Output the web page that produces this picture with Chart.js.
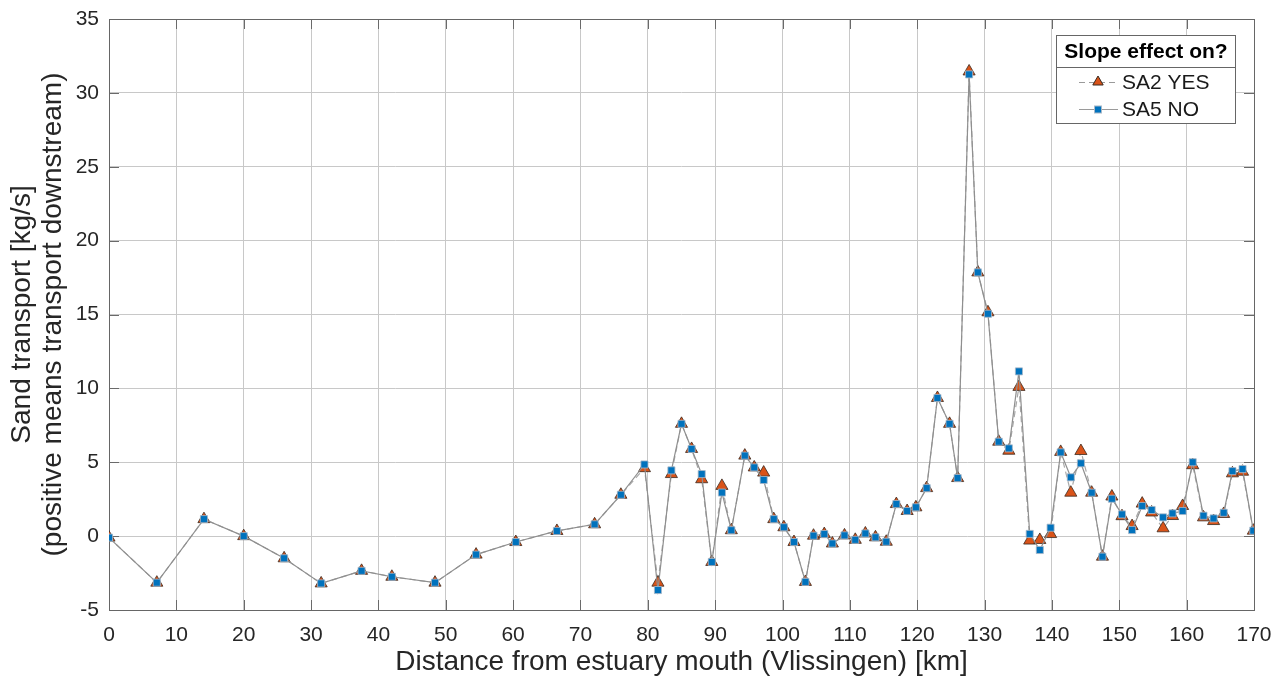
<!DOCTYPE html>
<html>
<head>
<meta charset="utf-8">
<script src="https://cdn.jsdelivr.net/npm/chart.js@4.4.1/dist/chart.umd.min.js"></script>
<style>
  html, body { margin: 0; padding: 0; background: #ffffff; }
  #wrap { width: 1283px; height: 682px; position: relative; }
</style>
</head>
<body>
<div id="wrap"><canvas id="c" width="1283" height="682"></canvas></div>
<script>
// Distance from estuary mouth [km]
const distanceKm = [0.0, 7.1, 14.1, 20.0, 26.0, 31.5, 37.5, 42.0, 48.4, 54.5, 60.4, 66.5, 72.1, 76.0, 79.5, 81.5, 83.5, 85.0, 86.5, 88.0, 89.5, 91.0, 92.4, 94.4, 95.8, 97.2, 98.7, 100.2, 101.7, 103.4, 104.6, 106.2, 107.4, 109.2, 110.8, 112.3, 113.8, 115.4, 116.9, 118.5, 119.8, 121.4, 123.0, 124.8, 126.0, 127.7, 129.0, 130.5, 132.1, 133.6, 135.1, 136.7, 138.2, 139.8, 141.3, 142.8, 144.3, 145.9, 147.5, 148.9, 150.4, 151.9, 153.4, 154.8, 156.5, 157.9, 159.4, 160.9, 162.5, 164.0, 165.5, 166.8, 168.3, 169.9];
// Sand transport [kg/s], slope effect on
const sa2Yes = [-0.1, -3.15, 1.15, 0.0, -1.5, -3.2, -2.35, -2.75, -3.15, -1.25, -0.4, 0.35, 0.8, 2.8, 4.6, -3.15, 4.2, 7.6, 5.9, 3.85, -1.75, 3.4, 0.4, 5.45, 4.65, 4.3, 1.15, 0.6, -0.4, -3.1, 0.03, 0.14, -0.5, 0.05, -0.25, 0.18, -0.08, -0.38, 2.17, 1.7, 1.95, 3.25, 9.35, 7.6, 3.93, 31.45, 17.85, 15.15, 6.39, 5.78, 10.1, -0.3, -0.26, 0.14, 5.7, 2.94, 5.76, 2.94, -1.39, 2.68, 1.35, 0.68, 2.2, 1.6, 0.53, 1.36, 2.04, 4.8, 1.27, 1.02, 1.5, 4.25, 4.36, 0.37];
// Sand transport [kg/s], slope effect off
const sa5No = [-0.1, -3.15, 1.15, 0.0, -1.5, -3.2, -2.35, -2.75, -3.15, -1.25, -0.4, 0.35, 0.8, 2.8, 4.85, -3.65, 4.45, 7.6, 5.9, 4.2, -1.75, 2.95, 0.4, 5.45, 4.65, 3.8, 1.15, 0.6, -0.4, -3.1, 0.03, 0.14, -0.5, 0.05, -0.25, 0.18, -0.08, -0.38, 2.17, 1.7, 1.95, 3.25, 9.35, 7.6, 3.93, 31.25, 17.85, 15.05, 6.39, 5.94, 11.15, 0.15, -0.94, 0.57, 5.67, 3.98, 4.93, 2.94, -1.39, 2.53, 1.47, 0.41, 2.04, 1.77, 1.27, 1.54, 1.7, 5.0, 1.38, 1.2, 1.58, 4.4, 4.54, 0.37];
const seriesNames = ["SA2 YES", "SA5 NO"];
const legendTitle = "Slope effect on?";
const xTitle = "Distance from estuary mouth (Vlissingen) [km]";
const yTitle = ["Sand transport [kg/s]", "(positive means transport downstream)"];
const xTickValues = [0, 10, 20, 30, 40, 50, 60, 70, 80, 90, 100, 110, 120, 130, 140, 150, 160, 170];
const yTickValues = [-5, 0, 5, 10, 15, 20, 25, 30, 35];

const FONT = '"Liberation Sans", Arial, Helvetica, sans-serif';
const ORANGE = '#D95319';
const BLUE = '#0072BD';

function pts(ys) { return distanceKm.map((x, i) => ({ x: x, y: ys[i] })); }

const boxTicksPlugin = {
  id: 'boxTicks',
  beforeDatasetsDraw(chart) {
    const { ctx, chartArea: a, scales } = chart;
    ctx.save();
    ctx.strokeStyle = '#6a6a6a';
    ctx.lineWidth = 1;
    const L = 10;
    ctx.beginPath();
    xTickValues.forEach(v => {
      const px = Math.round(scales.x.getPixelForValue(v)) + 0.5;
      ctx.moveTo(px, a.bottom); ctx.lineTo(px, a.bottom - L);
      ctx.moveTo(px, a.top); ctx.lineTo(px, a.top + L);
    });
    yTickValues.forEach(v => {
      const py = Math.round(scales.y.getPixelForValue(v)) + 0.5;
      ctx.moveTo(a.left, py); ctx.lineTo(a.left + L, py);
      ctx.moveTo(a.right, py); ctx.lineTo(a.right - L, py);
    });
    ctx.stroke();
    ctx.strokeStyle = '#666666';
    ctx.strokeRect(Math.round(a.left) + 0.5, Math.round(a.top) + 0.5, Math.round(a.right - a.left), Math.round(a.bottom - a.top));
    ctx.restore();
  },
  afterDraw(chart) {
    const { ctx } = chart;
    ctx.save();
    const bx = 1056.5, by = 35.5, bw = 179, bh = 88;
    ctx.fillStyle = '#ffffff';
    ctx.fillRect(bx, by, bw, bh);
    ctx.strokeStyle = '#666666';
    ctx.lineWidth = 1;
    ctx.strokeRect(bx, by, bw, bh);
    ctx.beginPath();
    ctx.moveTo(bx, 67.5); ctx.lineTo(bx + bw, 67.5);
    ctx.stroke();
    ctx.fillStyle = '#000000';
    ctx.font = 'bold 21px ' + FONT;
    ctx.textAlign = 'center';
    ctx.textBaseline = 'middle';
    ctx.fillText(legendTitle, bx + bw / 2, 52);
    ctx.font = '21px ' + FONT;
    ctx.textAlign = 'left';
    ctx.fillStyle = '#1a1a1a';
    ctx.fillText(seriesNames[0], 1122, 83);
    ctx.fillText(seriesNames[1], 1122, 110);
    // sample lines
    ctx.strokeStyle = '#9a9a9a';
    ctx.setLineDash([6, 4]);
    ctx.beginPath(); ctx.moveTo(1079, 82.5); ctx.lineTo(1118, 82.5); ctx.stroke();
    ctx.setLineDash([]);
    ctx.beginPath(); ctx.moveTo(1079, 109.5); ctx.lineTo(1118, 109.5); ctx.stroke();
    // markers
    const r = 6;
    ctx.fillStyle = ORANGE; ctx.strokeStyle = '#3a2a20';
    ctx.beginPath();
    ctx.moveTo(1098, 82 - r);
    ctx.lineTo(1098 + r * 0.866, 82 + r * 0.5);
    ctx.lineTo(1098 - r * 0.866, 82 + r * 0.5);
    ctx.closePath(); ctx.fill(); ctx.stroke();
    ctx.fillStyle = BLUE; ctx.strokeStyle = '#a8b8c8';
    ctx.fillRect(1094.5, 106, 7, 7); ctx.strokeRect(1094.5, 106, 7, 7);
    ctx.restore();
  }
};

const chart = new Chart(document.getElementById('c'), {
  type: 'scatter',
  data: {
    datasets: [
      {
        label: seriesNames[0],
        data: pts(sa2Yes),
        showLine: true,
        order: 2,
        borderColor: '#a8a8a8',
        borderWidth: 1.2,
        borderDash: [6, 4],
        pointStyle: 'triangle',
        pointRadius: 7,
        pointBackgroundColor: ORANGE,
        pointBorderColor: '#3a2a20',
        pointBorderWidth: 0.8
      },
      {
        label: seriesNames[1],
        data: pts(sa5No),
        showLine: true,
        order: 1,
        borderColor: '#8f8f8f',
        borderWidth: 1.2,
        pointStyle: 'rect',
        pointRadius: 5,
        pointBackgroundColor: BLUE,
        pointBorderColor: '#a8b8c8',
        pointBorderWidth: 0.8
      }
    ]
  },
  options: {
    responsive: false,
    animation: false,
    layout: { padding: { left: 0, right: 29, top: 19, bottom: 0 } },
    plugins: {
      legend: { display: false },
      tooltip: { enabled: false }
    },
    scales: {
      x: {
        type: 'linear',
        min: 0, max: 170,
        afterBuildTicks(scale) { scale.ticks = xTickValues.map(v => ({ value: v })); },
        afterFit(scale) { scale.height = 72; scale.paddingLeft = 0; scale.paddingRight = 0; },
        grid: { color: '#c8c8c8', drawTicks: false, lineWidth: 1 },
        border: { display: false },
        ticks: { color: '#262626', font: { family: FONT, size: 21 }, padding: 13, maxRotation: 0, autoSkip: false },
        title: { display: true, text: xTitle, color: '#262626', font: { family: FONT, size: 28 }, padding: { top: 2, bottom: 3 } }
      },
      y: {
        type: 'linear',
        min: -5, max: 35,
        afterBuildTicks(scale) { scale.ticks = yTickValues.map(v => ({ value: v })); },
        afterFit(scale) { scale.width = 109; scale.paddingTop = 0; scale.paddingBottom = 0; },
        grid: { color: '#c8c8c8', drawTicks: false, lineWidth: 1 },
        border: { display: false },
        ticks: { color: '#262626', font: { family: FONT, size: 21 }, padding: 10, autoSkip: false },
        title: { display: true, text: yTitle, color: '#262626', font: { family: FONT, size: 28, lineHeight: 1.1 }, padding: { top: 7, bottom: 0 } }
      }
    }
  },
  plugins: [boxTicksPlugin]
});
</script>
</body>
</html>
